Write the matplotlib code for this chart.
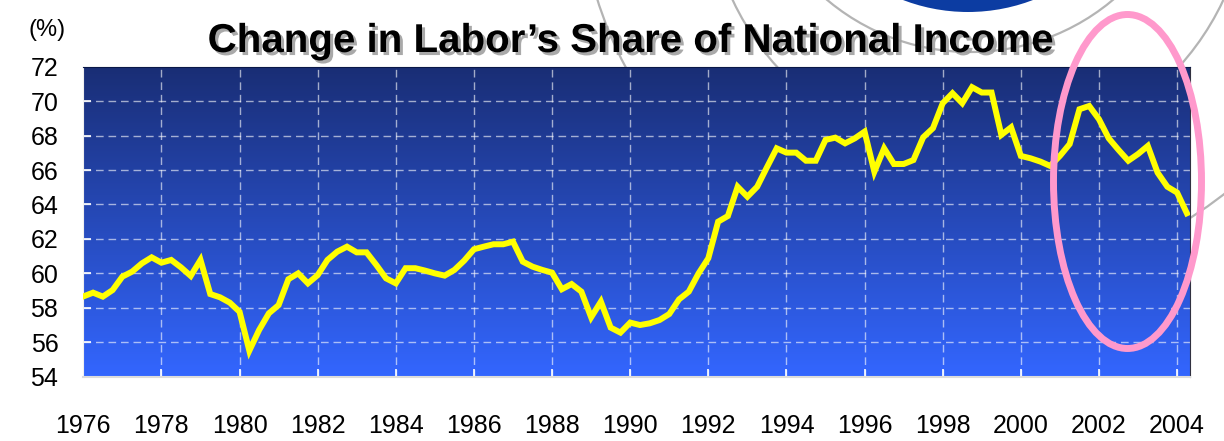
import numpy as np
import matplotlib
matplotlib.use("Agg")
import matplotlib.pyplot as plt
import matplotlib.patheffects as pe
from matplotlib.patches import Circle, Ellipse

plt.rcParams['font.family'] = ['Liberation Sans', 'DejaVu Sans']

# quarterly labour share, 1976Q1 .. 2004Q2
share_by_year = {
    1976: [58.66, 58.88, 58.65, 59.03],
    1977: [59.81, 60.10, 60.58, 60.93],
    1978: [60.62, 60.78, 60.35, 59.85],
    1979: [60.78, 58.80, 58.61, 58.30],
    1980: [57.77, 55.51, 56.71, 57.68],
    1981: [58.16, 59.66, 60.00, 59.42],
    1982: [59.90, 60.78, 61.26, 61.55],
    1983: [61.22, 61.22, 60.49, 59.71],
    1984: [59.42, 60.30, 60.30, 60.16],
    1985: [60.00, 59.87, 60.20, 60.74],
    1986: [61.40, 61.55, 61.69, 61.69],
    1987: [61.84, 60.68, 60.39, 60.20],
    1988: [60.04, 59.08, 59.38, 58.94],
    1989: [57.45, 58.36, 56.85, 56.56],
    1990: [57.14, 57.00, 57.10, 57.29],
    1991: [57.64, 58.49, 58.94, 60.00],
    1992: [60.88, 63.00, 63.33, 65.03],
    1993: [64.45, 65.03, 66.16, 67.26],
    1994: [67.01, 67.01, 66.54, 66.54],
    1995: [67.75, 67.88, 67.55, 67.84],
    1996: [68.23, 65.90, 67.26, 66.35],
    1997: [66.35, 66.58, 67.90, 68.43],
    1998: [69.88, 70.46, 69.88, 70.81],
    1999: [70.50, 70.50, 68.04, 68.48],
    2000: [66.82, 66.68, 66.49, 66.24],
    2001: [66.82, 67.51, 69.53, 69.72],
    2002: [68.95, 67.84, 67.17, 66.54],
    2003: [66.93, 67.40, 65.85, 65.03],
    2004: [64.69, 63.49],
}
years = []
share = []
for yr, vals in share_by_year.items():
    for q, v in enumerate(vals):
        years.append(yr + q * 0.25)
        share.append(v)

xticks = list(range(1976, 2005, 2))
yticks = list(range(54, 73, 2))

W, H = 1224, 441
fig = plt.figure(figsize=(W / 100, H / 100), dpi=100)

# decorative background layer in pixel coords
bg = fig.add_axes([0, 0, 1, 1], zorder=0)
bg.set_xlim(0, W)
bg.set_ylim(H, 0)
bg.axis('off')
bg.add_patch(Circle((968, -170), 182, facecolor='#0c3ca2', edgecolor='none'))
for r, c in [(222, (970, -170)), (271, (978, -115)), (399, (978, -120))]:
    bg.add_patch(Circle(c, r, facecolor='none', edgecolor='#b4b4b4', lw=1.6))

bg.text(630, 52, "Change in Labor\u2019s Share of National Income", fontsize=29,
        fontweight='bold', ha='center', va='baseline', color='black',
        path_effects=[pe.withSimplePatchShadow(offset=(2.2, -2.2), shadow_rgbFace='#a0a0a0', alpha=0.9)])
bg.text(47, 30, "(%)", fontsize=17, ha='center', va='center')

x0, x1 = 83.3 / W, 1190 / W
y0, y1 = 1 - 376.7 / H, 1 - 66.7 / H
ax = fig.add_axes([x0, y0, x1 - x0, y1 - y0], zorder=1)
xmin, xmax = 1976, 2004.33
ax.set_xlim(xmin, xmax)
ax.set_ylim(54, 72)

grad = np.linspace(0, 1, 256)[:, None]
top = np.array([0.10, 0.18, 0.46])
bot = np.array([0.20, 0.40, 1.00])
img = top[None, None, :] * (1 - grad[..., None]) + bot[None, None, :] * grad[..., None]
ax.imshow(img, extent=[xmin, xmax, 54, 72], aspect='auto', origin='upper', zorder=0)

for yv in yticks[1:-1]:
    ax.axhline(yv, color='white', alpha=0.6, lw=1, dashes=(5.5, 3.5), zorder=1)
for xv in xticks[1:]:
    ax.axvline(xv, color='white', alpha=0.6, lw=1, dashes=(5.5, 3.5), zorder=1)

ax.plot(years, share, color='#ffff00', lw=4.3, solid_joinstyle='miter', zorder=3)

ax.set_xticks(xticks)
ax.set_yticks(yticks)
ax.tick_params(axis='both', direction='in', color='white', length=6, width=1.2)
ax.tick_params(axis='y', labelsize=18, pad=18)
ax.tick_params(axis='x', labelsize=18, pad=27)
ax.spines['left'].set_color('#f0f0f0')
ax.spines['bottom'].set_color('#dcdcdc')
ax.spines['bottom'].set_linewidth(1.5)
ax.spines['top'].set_color('#0a1848')
ax.spines['right'].set_color('#303040')

# highlight ellipse overlay
fg = fig.add_axes([0, 0, 1, 1], zorder=2)
fg.set_xlim(0, W)
fg.set_ylim(H, 0)
fg.axis('off')
fg.patch.set_alpha(0)
fg.add_patch(Ellipse((1127.5, 181.5), 148, 334, facecolor='none', edgecolor='#ff99cc', lw=5))

fig.savefig('out.png', dpi=100)
